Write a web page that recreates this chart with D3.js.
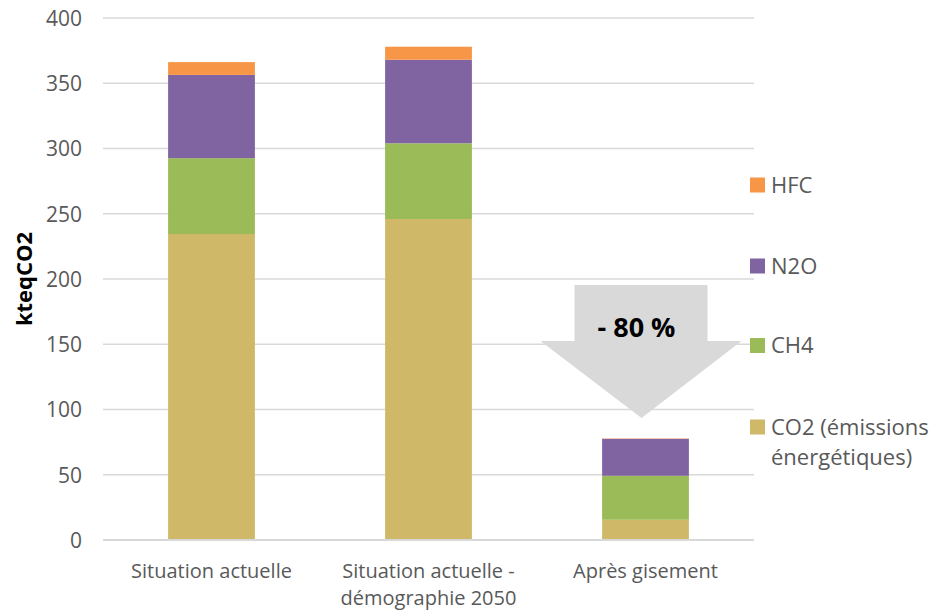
<!DOCTYPE html>
<html>
<head>
<meta charset="utf-8">
<script src="https://cdn.jsdelivr.net/npm/d3@7"></script>
<style>
  html, body { margin: 0; padding: 0; background: #fff; }
  svg { display: block; font-family: "Open Sans", "Noto Sans", sans-serif; }
</style>
</head>
<body>
<svg id="chart" width="939" height="614"></svg>
<script>
// Scenarios on the x axis (label lines)
const categories = ["Situation actuelle", "Situation actuelle - démographie 2050", "Après gisement"];
const categoryLines = [["Situation actuelle"], ["Situation actuelle -", "démographie 2050"], ["Après gisement"]];

// Emissions by gas, kteqCO2, stacked bottom to top
const co2  = [234.5, 246.0, 15.5];
const ch4  = [58.1, 58.0, 33.7];
const n2o  = [63.8, 64.0, 28.3];
const hfc  = [9.8, 10.0, 0.3];

const seriesKeys   = ["co2", "ch4", "n2o", "hfc"];
const seriesLabels = { co2: ["CO2 (émissions", "énergétiques)"], ch4: ["CH4"], n2o: ["N2O"], hfc: ["HFC"] };
const seriesColors = { co2: "#cfb867", ch4: "#9bbb59", n2o: "#8064a2", hfc: "#f79646" };

const yTicks = [0, 50, 100, 150, 200, 250, 300, 350, 400];
const reductionLabel = "- 80 %";

const rows = categories.map((c, i) => ({ cat: c, co2: co2[i], ch4: ch4[i], n2o: n2o[i], hfc: hfc[i] }));

const svg = d3.select("#chart");
const plot = { left: 103, right: 754, top: 18, bottom: 540 };

const x = d3.scaleBand().domain(categories).range([plot.left, plot.right])
  .paddingInner(0.6).paddingOuter(0.3);
const y = d3.scaleLinear().domain([0, 400]).range([plot.bottom, plot.top]);

// Horizontal gridlines
svg.append("g").selectAll("line").data(yTicks.filter(d => d > 0)).join("line")
  .attr("x1", plot.left).attr("x2", plot.right)
  .attr("y1", d => y(d)).attr("y2", d => y(d))
  .attr("stroke", "#d9d9d9").attr("stroke-width", 1.3);

// Y axis labels
const yAxis = d3.axisLeft(y).tickValues(yTicks).tickSize(0).tickPadding(0);
const yg = svg.append("g").attr("transform", `translate(${plot.left - 21},0)`).call(yAxis);
yg.select(".domain").remove();
yg.selectAll("text").attr("fill", "#595959").style("font-size", "21px")
  .style("font-family", "'Open Sans', sans-serif").attr("dy", "0.35em");

// Stacked bars
const stack = d3.stack().keys(seriesKeys)(rows);
svg.append("g").selectAll("g").data(stack).join("g")
  .attr("fill", s => seriesColors[s.key])
  .selectAll("rect").data(s => s).join("rect")
  .attr("x", d => x(d.data.cat))
  .attr("width", x.bandwidth())
  .attr("y", d => y(d[1]))
  .attr("height", d => y(d[0]) - y(d[1]));

// Baseline
svg.append("line").attr("x1", plot.left).attr("x2", plot.right)
  .attr("y1", y(0)).attr("y2", y(0))
  .attr("stroke", "#d9d9d9").attr("stroke-width", 2);

// Category labels, one text element per line
const catG = svg.append("g");
categories.forEach((c, i) => {
  categoryLines[i].forEach((line, j) => {
    catG.append("text")
      .attr("x", x(c) + x.bandwidth() / 2).attr("y", 578 + j * 27)
      .attr("text-anchor", "middle").attr("fill", "#595959").style("font-size", "20px")
      .text(line);
  });
});

// Y axis title
svg.append("text")
  .attr("transform", `translate(32,${(plot.top + plot.bottom) / 2}) rotate(-90)`)
  .attr("text-anchor", "middle").attr("fill", "#000")
  .style("font-size", "22px").style("font-weight", "bold")
  .text("kteqCO2");

// Reduction arrow over the last scenario
const cx = x(categories[2]) + x.bandwidth() / 2 - 4;
const arrowPts = [
  [cx - 67, 285], [cx + 66, 285], [cx + 66, 341], [cx + 100, 341],
  [cx, 418], [cx - 101, 341], [cx - 67, 341]
];
svg.append("polygon").attr("points", arrowPts.map(p => p.join(",")).join(" "))
  .attr("fill", "#d9d9d9");
svg.append("text").attr("x", cx - 5).attr("y", 337)
  .attr("text-anchor", "middle").style("font-size", "27px").style("font-weight", "bold")
  .attr("fill", "#000").text(reductionLabel);

// Legend, top to bottom: HFC, N2O, CH4, CO2
const legendKeys = ["hfc", "n2o", "ch4", "co2"];
const legendY = { hfc: 185, n2o: 266, ch4: 345.5, co2: 427 };
const lg = svg.append("g");
legendKeys.forEach(k => {
  lg.append("rect").attr("x", 750).attr("y", legendY[k] - 7.5).attr("width", 15).attr("height", 15)
    .attr("fill", seriesColors[k]);
  const t = lg.append("text").attr("x", 771).attr("y", legendY[k])
    .attr("fill", "#595959").style("font-size", "22px");
  seriesLabels[k].forEach((line, j) => {
    t.append("tspan").attr("x", 771).attr("dy", j === 0 ? "0.35em" : 30.5).text(line);
  });
});
</script>
</body>
</html>
